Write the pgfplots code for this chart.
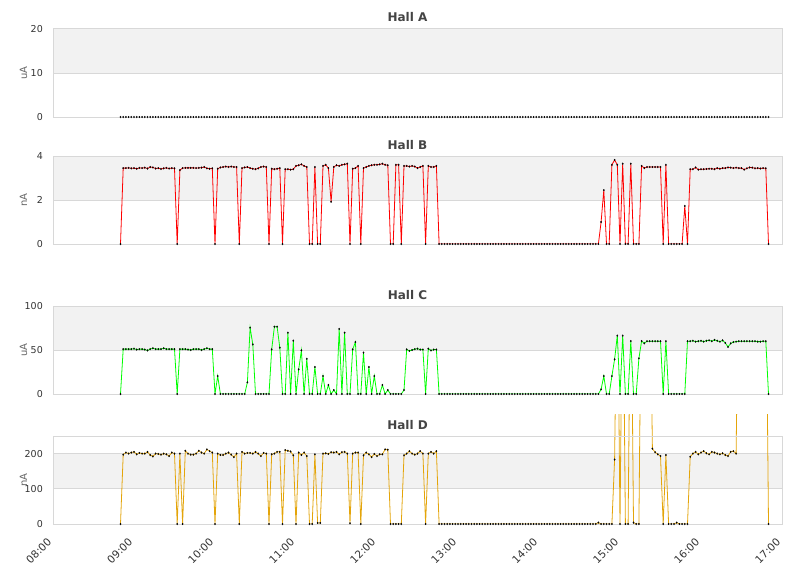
\documentclass[border=0pt]{standalone}
\usepackage{fontspec}
\setmainfont{DejaVu Sans}
\usepackage{pgfplots}
\usepackage{pgfplotstable}
\pgfplotsset{compat=1.18}
\definecolor{band}{RGB}{242,242,242}
\definecolor{gridc}{RGB}{216,216,216}
\definecolor{titlec}{RGB}{68,68,68}
\definecolor{tickc}{RGB}{51,51,51}
\definecolor{labc}{RGB}{102,102,102}
\definecolor{hallB}{RGB}{255,0,0}
\definecolor{hallC}{RGB}{0,255,0}
\definecolor{hallD}{RGB}{228,165,10}

% minutes after 08:00, Hall A (uA), Hall B (nA), Hall C (uA), Hall D (nA)
\pgfplotstableread{
m A B C D
50 0 0 0 0
52 0 3.45 51 197
54 0 3.45 51 203
56 0 3.46 51 200
58 0 3.44 51 203
60 0 3.45 51.5 205
62 0 3.42 50.5 198
64 0 3.46 51 202
66 0 3.45 51 200
68 0 3.47 50.5 200
70 0 3.43 49.5 205
72 0 3.5 51 196
74 0 3.48 52 192
76 0 3.43 51 200
78 0 3.45 51 199
80 0 3.41 51 197
82 0 3.44 52 200
84 0 3.46 51 198
86 0 3.43 51 193
88 0 3.45 51 203
90 0 3.44 51 200
92 0 0 0 0
94 0 3.36 51 200
96 0 3.45 51 0
98 0 3.46 51 208
100 0 3.46 50.5 200
102 0 3.46 50 197
104 0 3.46 51 197
106 0 3.45 51 200
108 0 3.46 51 208
110 0 3.47 50 203
112 0 3.5 51 200
114 0 3.44 52 212
116 0 3.42 51 207
118 0 3.44 51 203
120 0 0 0 0
122 0 3.42 20.4 200
124 0 3.48 0 196
126 0 3.5 0 196
128 0 3.52 0 200
130 0 3.5 0 203
132 0 3.52 0 197
134 0 3.5 0 190
136 0 3.5 0 200
138 0 0 0 0
140 0 3.45 0 205
142 0 3.48 0 200
144 0 3.5 13.3 202
146 0 3.45 75.4 202
148 0 3.42 56.4 200
150 0 3.4 0 205
152 0 3.44 0 200
154 0 3.5 0 193
156 0 3.52 0 202
158 0 3.5 0 200
160 0 0 0 0
162 0 3.42 50.7 198
164 0 3.4 76.5 200
166 0 3.42 76.5 205
168 0 3.45 52.7 205
170 0 0 0 0
172 0 3.4 0 210
174 0 3.4 69.7 208
176 0 3.38 0 206
178 0 3.4 60.6 195
180 0 3.55 0 0
182 0 3.58 28 203
184 0 3.62 49.6 196
186 0 3.55 0 203
188 0 3.5 40 193
190 0 0 0 0
192 0 0 0 0
194 0 3.5 30.7 198
196 0 0 0 3
198 0 0 0 3
200 0 3.55 20.4 200
202 0 3.6 0 201
204 0 3.45 10.2 199
206 0 1.92 0 204
208 0 3.5 4.5 203
210 0 3.58 0 205
212 0 3.55 73.9 198
214 0 3.6 0 204
216 0 3.62 69.7 205
218 0 3.65 0 200
220 0 0 0 2
222 0 3.42 50.7 200
224 0 3.45 59 203
226 0 3.55 0 203
228 0 0 0 0
230 0 3.45 47 195
232 0 3.5 0 203
234 0 3.55 30.7 198
236 0 3.58 0 190
238 0 3.6 20.4 199
240 0 3.6 0 193
242 0 3.62 0 198
244 0 3.65 10.2 198
246 0 3.6 0 212
248 0 3.58 4.5 211
250 0 0 0 0
252 0 0 0 0
254 0 3.6 0 0
256 0 3.6 0 0
258 0 0 0 0
260 0 3.55 4.5 195
262 0 3.55 50.7 200
264 0 3.52 49 207
266 0 3.55 50 200
268 0 3.52 51 197
270 0 3.45 51.5 200
272 0 3.5 50.5 207
274 0 3.55 50.5 200
276 0 0 0 0
278 0 3.55 51.5 200
280 0 3.5 49.5 205
282 0 3.5 50.5 200
284 0 3.55 50.5 207
286 0 0 0 0
288 0 0 0 0
290 0 0 0 0
292 0 0 0 0
294 0 0 0 0
296 0 0 0 0
298 0 0 0 0
300 0 0 0 0
302 0 0 0 0
304 0 0 0 0
306 0 0 0 0
308 0 0 0 0
310 0 0 0 0
312 0 0 0 0
314 0 0 0 0
316 0 0 0 0
318 0 0 0 0
320 0 0 0 0
322 0 0 0 0
324 0 0 0 0
326 0 0 0 0
328 0 0 0 0
330 0 0 0 0
332 0 0 0 0
334 0 0 0 0
336 0 0 0 0
338 0 0 0 0
340 0 0 0 0
342 0 0 0 0
344 0 0 0 0
346 0 0 0 0
348 0 0 0 0
350 0 0 0 0
352 0 0 0 0
354 0 0 0 0
356 0 0 0 0
358 0 0 0 0
360 0 0 0 0
362 0 0 0 0
364 0 0 0 0
366 0 0 0 0
368 0 0 0 0
370 0 0 0 0
372 0 0 0 0
374 0 0 0 0
376 0 0 0 0
378 0 0 0 0
380 0 0 0 0
382 0 0 0 0
384 0 0 0 0
386 0 0 0 0
388 0 0 0 0
390 0 0 0 0
392 0 0 0 0
394 0 0 0 0
396 0 0 0 0
398 0 0 0 0
400 0 0 0 0
402 0 0 0 0
404 0 0 0 4
406 0 1.0 5.3 0
408 0 2.45 20.4 0
410 0 0 0 0
412 0 0 0 0
414 0 3.6 20.4 0
416 0 3.82 39.4 183
418 0 3.6 66.3 800
420 0 0 0 0
422 0 3.65 66.3 800
424 0 0 0 0
426 0 0 0 0
428 0 3.65 60.2 800
430 0 0 0 4
432 0 0 0 0
434 0 0 40.5 0
436 0 3.55 60.2 800
438 0 3.45 57.6 800
440 0 3.5 60 800
442 0 3.5 60 800
444 0 3.5 60 214
446 0 3.5 60 204
448 0 3.5 60 198
450 0 3.5 60 193
452 0 0 0 0
454 0 3.6 60 196
456 0 0 0 0
458 0 0 0 0
460 0 0 0 0
462 0 0 0 4
464 0 0 0 0
466 0 0 0 0
468 0 1.73 0 0
470 0 0 60 0
472 0 3.4 60 191
474 0 3.4 60.5 200
476 0 3.48 59.5 205
478 0 3.38 60 198
480 0 3.4 60.5 203
482 0 3.4 59.5 207
484 0 3.41 60.5 201
486 0 3.42 61 198
488 0 3.42 60 205
490 0 3.4 61.5 203
492 0 3.45 60.5 200
494 0 3.42 59.5 198
496 0 3.45 61 201
498 0 3.45 58 196
500 0 3.48 53.5 193
502 0 3.47 57.5 205
504 0 3.45 59 207
506 0 3.47 59.5 200
508 0 3.45 60 800
510 0 3.45 60 800
512 0 3.38 60 800
514 0 3.44 60 800
516 0 3.48 60 800
518 0 3.47 60 800
520 0 3.44 60 800
522 0 3.45 59.5 800
524 0 3.43 59.5 800
526 0 3.45 60 800
528 0 3.44 60 800
530 0 0 0 0
}\halls

\tikzset{hallframe/.style={draw=gridc, line width=1pt}}
\pgfplotsset{
  hall/.style={
    scale only axis, width=729pt, height=88pt,
    anchor=south west,
    xmin=0, xmax=540, ymin=0,
    axis line style={draw=none},
    major tick length=0pt,
    xtick=\empty,
    ticklabel style={font=\fontsize{9.5}{11}\selectfont, text=tickc},
    yticklabel style={inner sep=0pt, anchor=east, xshift=-10pt},
    /pgf/number format/assume math mode=true,
    clip mode=individual,
  },
  dots/.style={only marks, mark=diamond*, mark size=1.0pt,
    mark options={draw=black, fill=black, line width=0.1pt}},
}

\begin{document}
\begin{tikzpicture}
\useasboundingbox (0,0) rectangle (811pt,-578pt);

% ---------- Hall A ----------
\begin{axis}[hall, at={(53pt,-117pt)}, ymax=20, ytick={0,10,20}]
\fill[band] (axis cs:0,10) rectangle (axis cs:540,20);
\draw[hallframe] (axis cs:0,10) -- (axis cs:540,10);
\draw[hallframe] (axis cs:0,0) rectangle (axis cs:540,20);
\addplot[dots] table[x=m, y=A] {\halls};
\end{axis}

% ---------- Hall B ----------
\begin{axis}[hall, at={(53pt,-244pt)}, ymax=4, ytick={0,2,4}]
\fill[band] (axis cs:0,2) rectangle (axis cs:540,4);
\draw[hallframe] (axis cs:0,2) -- (axis cs:540,2);
\addplot[hallB, line width=0.8pt, no marks] table[x=m, y=B] {\halls};
\draw[hallframe] (axis cs:0,0) rectangle (axis cs:540,4);
\addplot[dots] table[x=m, y=B] {\halls};
\end{axis}

% ---------- Hall C ----------
\begin{axis}[hall, at={(53pt,-394pt)}, ymax=100, ytick={0,50,100}]
\fill[band] (axis cs:0,50) rectangle (axis cs:540,100);
\draw[hallframe] (axis cs:0,50) -- (axis cs:540,50);
\addplot[hallC, line width=0.8pt, no marks] table[x=m, y=C] {\halls};
\draw[hallframe] (axis cs:0,0) rectangle (axis cs:540,100);
\addplot[dots] table[x=m, y=C] {\halls};
\end{axis}

% ---------- Hall D ----------
\begin{axis}[hall, at={(53pt,-524pt)}, height=110pt, ymax=312.5, ytick={0,100,200},
  xtick={0,60,...,540},
  xticklabels={08:00,09:00,10:00,11:00,12:00,13:00,14:00,15:00,16:00,17:00},
  xticklabel style={yshift=-16pt, xshift=-3.5pt, rotate=45, anchor=east, inner sep=0pt,
    font=\fontsize{10.5}{12}\selectfont}]
\fill[band] (axis cs:0,100) rectangle (axis cs:540,200);
\draw[hallframe] (axis cs:0,100) -- (axis cs:540,100);
\draw[hallframe] (axis cs:0,200) -- (axis cs:540,200);
\addplot[hallD, line width=0.8pt, no marks] table[x=m, y=D] {\halls};
\draw[hallframe] (axis cs:0,0) rectangle (axis cs:540,250);
\addplot[dots, restrict y to domain=-10:300] table[x=m, y=D] {\halls};
\end{axis}

% ---------- titles and unit labels ----------
\begin{scope}[every node/.style={font=\fontsize{12}{14}\selectfont\bfseries, text=titlec, anchor=base}]
\node at (407.5pt,-22pt) {Hall A};
\node at (407.5pt,-149pt) {Hall B};
\node at (407.5pt,-299pt) {Hall C};
\node at (407.5pt,-429pt) {Hall D};
\end{scope}
\begin{scope}[every node/.style={font=\fontsize{10}{12}\selectfont, text=labc, rotate=90, anchor=center}]
\node at (23.5pt,-73pt) {uA};
\node at (23.5pt,-200pt) {nA};
\node at (23.5pt,-350pt) {uA};
\node at (23.5pt,-480pt) {nA};
\end{scope}
\end{tikzpicture}
\end{document}
